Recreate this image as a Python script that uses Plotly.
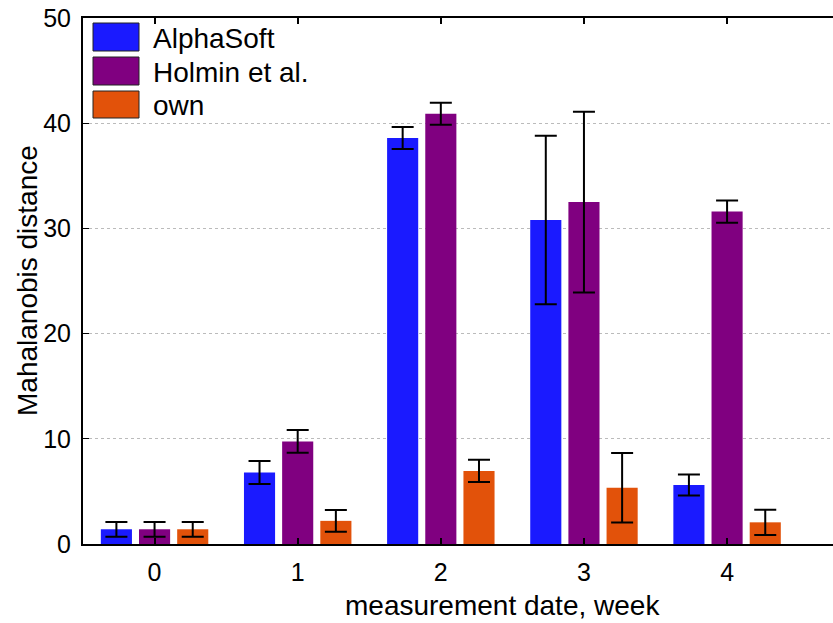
import plotly.graph_objects as go

weeks = [0, 1, 2, 3, 4]
series_names = ["AlphaSoft", "Holmin et al.", "own"]
alphasoft = [1.4, 6.8, 38.6, 30.8, 5.6]
alphasoft_err = [0.7, 1.1, 1.05, 8.0, 1.0]
holmin = [1.4, 9.75, 40.9, 32.5, 31.6]
holmin_err = [0.7, 1.08, 1.05, 8.6, 1.06]
own = [1.4, 2.2, 6.95, 5.35, 2.06]
own_err = [0.7, 1.03, 1.06, 3.3, 1.2]
colors = ["#1a1aff", "#800080", "#e2520a"]
y_ticks = [0, 10, 20, 30, 40, 50]

FONT = "Liberation Sans, Arial, sans-serif"
W, H = 833, 623
L, R, T, B = 83, 0, 18, 79
pw, ph = W - L - R, H - T - B

fig = go.Figure()
for name, vals, errs, col in zip(series_names, [alphasoft, holmin, own],
                                 [alphasoft_err, holmin_err, own_err], colors):
    fig.add_trace(go.Bar(
        x=weeks, y=vals, name=name, marker=dict(color=col, line=dict(width=0)),
        error_y=dict(type="data", array=errs, color="black", thickness=2, width=11),
        showlegend=False))

def px2paper(x, y):
    return (x - L) / pw, (H - B - y) / ph

shapes = []
annotations = []
legend_rows = [(23, 51), (57, 85), (91, 118)]
for (y0, y1), name, col in zip(legend_rows, series_names, colors):
    ax0, ay0 = px2paper(93, y1)
    ax1, ay1 = px2paper(139, y0)
    shapes.append(dict(type="rect", xref="paper", yref="paper", x0=ax0, x1=ax1,
                       y0=ay0, y1=ay1, fillcolor=col,
                       line=dict(color="#222222", width=1), layer="above"))
    tx, ty = px2paper(151, (y0 + y1) / 2 + 1)
    annotations.append(dict(text=name, xref="paper", yref="paper", x=tx, y=ty,
                            xanchor="left", yanchor="middle", showarrow=False,
                            font=dict(family=FONT, size=28, color="black")))

tx, ty = px2paper(502, 605)
annotations.append(dict(text="measurement date, week", xref="paper", yref="paper",
                        x=tx, y=ty, xanchor="center", yanchor="middle", showarrow=False,
                        font=dict(family=FONT, size=28, color="black")))
tx, ty = px2paper(27, 281)
annotations.append(dict(text="Mahalanobis distance", xref="paper", yref="paper",
                        x=tx, y=ty, xanchor="center", yanchor="middle", showarrow=False,
                        textangle=-90, font=dict(family=FONT, size=28, color="black")))

fig.update_layout(
    width=W, height=H, margin=dict(l=L, r=R, t=T, b=B, pad=0),
    paper_bgcolor="white", plot_bgcolor="white",
    barmode="group", bargap=0.2, bargroupgap=0.185,
    font=dict(family=FONT, size=25, color="black"),
    shapes=shapes, annotations=annotations,
    xaxis=dict(range=[-0.5, 4.74], tickmode="array", tickvals=weeks,
               ticktext=[str(w) for w in weeks], ticks="inside", ticklen=6,
               tickwidth=2, tickcolor="black", showline=True, linecolor="black",
               linewidth=2, mirror="ticks", showgrid=False, zeroline=False,
               ticklabelstandoff=5, tickfont=dict(size=25)),
    yaxis=dict(range=[0, 50], tickmode="array", tickvals=y_ticks, ticks="inside",
               ticklen=6, tickwidth=1, tickcolor="black", showline=True,
               linecolor="black", linewidth=2, mirror=False, showgrid=True,
               gridcolor="#bbbbbb", griddash="dot", gridwidth=1, zeroline=False,
               ticklabelstandoff=5, tickfont=dict(size=25)),
)
fig.write_html("out.html")
